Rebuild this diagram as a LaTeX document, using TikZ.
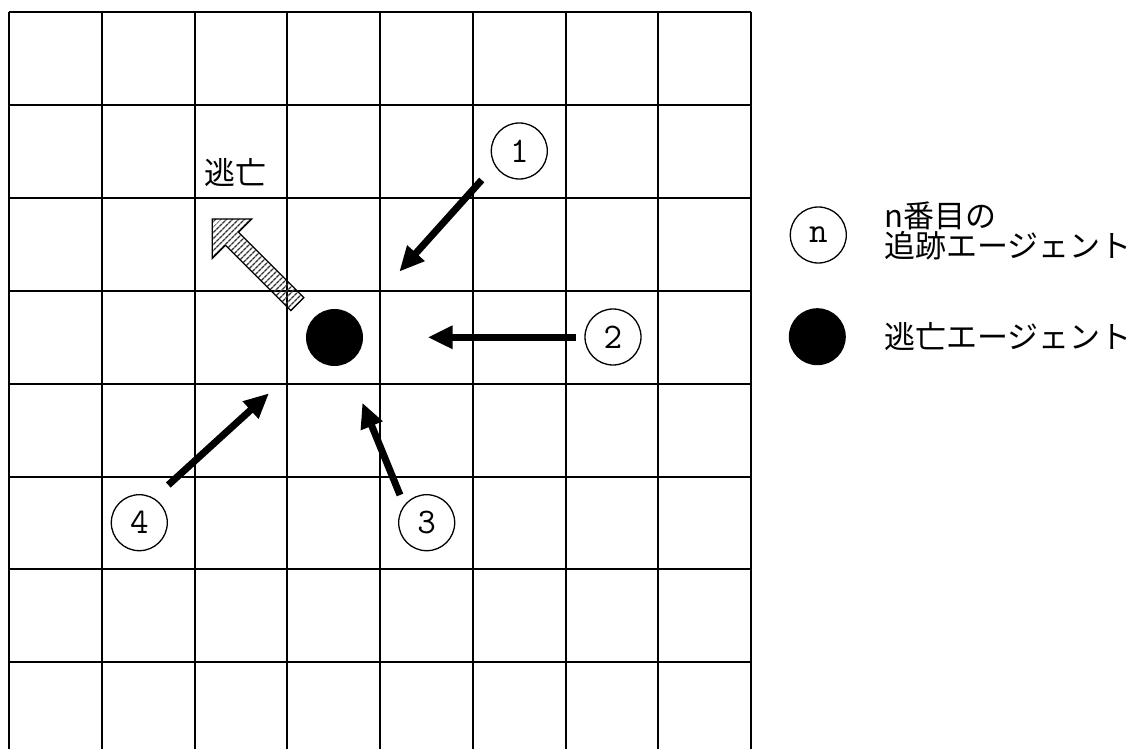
\documentclass[tikz,border=0pt]{standalone}
\usepackage{fontspec}
\setmainfont{Noto Sans CJK JP}
\usetikzlibrary{arrows.meta,patterns.meta}
\tikzset{
  gridline/.style={line width=2pt,black},
  agent/.style={circle,draw,line width=1.3pt,minimum size=56pt,inner sep=0pt,font=\ttfamily\fontsize{36}{36}\selectfont},
  evader/.style={circle,fill=black,minimum size=57pt,inner sep=0pt},
  chase/.style={line width=7pt,-{Triangle[length=25pt,width=22pt]}},
  jtext/.style={inner sep=0pt,font=\fontsize{31}{31}\selectfont},
  escape/.style={line width=1.3pt,pattern={Lines[angle=45,distance=4pt,line width=1.4pt]},pattern color=black!80}
}
\begin{document}
\begin{tikzpicture}[x=1pt,y=-1pt]
\clip (0,0) rectangle (1141,749);
\fill[white] (0,0) rectangle (1141,749);
% grid
\foreach \i in {0,...,8} {
  \draw[gridline] ({9+92.75*\i},12) -- ({9+92.75*\i},760);
  \draw[gridline] (9,{12+92.9*\i}) -- (751,{12+92.9*\i});
}
% escape arrow
\draw[escape] (212.3,219) -- (251.7,219) -- (238.5,232.2) -- (303.8,297.6) -- (290.8,310.6) -- (225.5,245.2) -- (212.3,258.3) -- cycle;
\node[jtext] (esc) at (235,173) {逃亡};
% evader
\node[evader] (e) at (334.5,337.5) {};
% pursuers
\node[agent] (c1) at (519.3,151) {1};
\node[agent] (c2) at (613,337) {2};
\node[agent] (c3) at (426.7,522.7) {3};
\node[agent] (c4) at (139.3,522.7) {4};
\coordinate (a1s) at (481.7,180);
\coordinate (a1e) at (399.3,271.7);
\coordinate (a2s) at (576,337.3);
\coordinate (a2e) at (427.7,337.3);
\coordinate (a3s) at (400,495);
\coordinate (a3e) at (362.3,402.7);
\coordinate (a4s) at (168.3,485);
\coordinate (a4e) at (269,393.3);
\draw[chase] (a1s) -- (a1e);
\draw[chase] (a2s) -- (a2e);
\draw[chase] (a3s) -- (a3e);
\draw[chase] (a4s) -- (a4e);
% legend
\node[agent] (ln) at (818.3,235) {n};
\node[jtext,anchor=west,align=left,font=\fontsize{31}{29.5}\selectfont] (lt1) at (884,231) {n番目の\\追跡エージェント};
\node[evader] (le) at (817.3,336.7) {};
\node[jtext,anchor=west] (lt2) at (884,337) {逃亡エージェント};
\end{tikzpicture}
\end{document}
